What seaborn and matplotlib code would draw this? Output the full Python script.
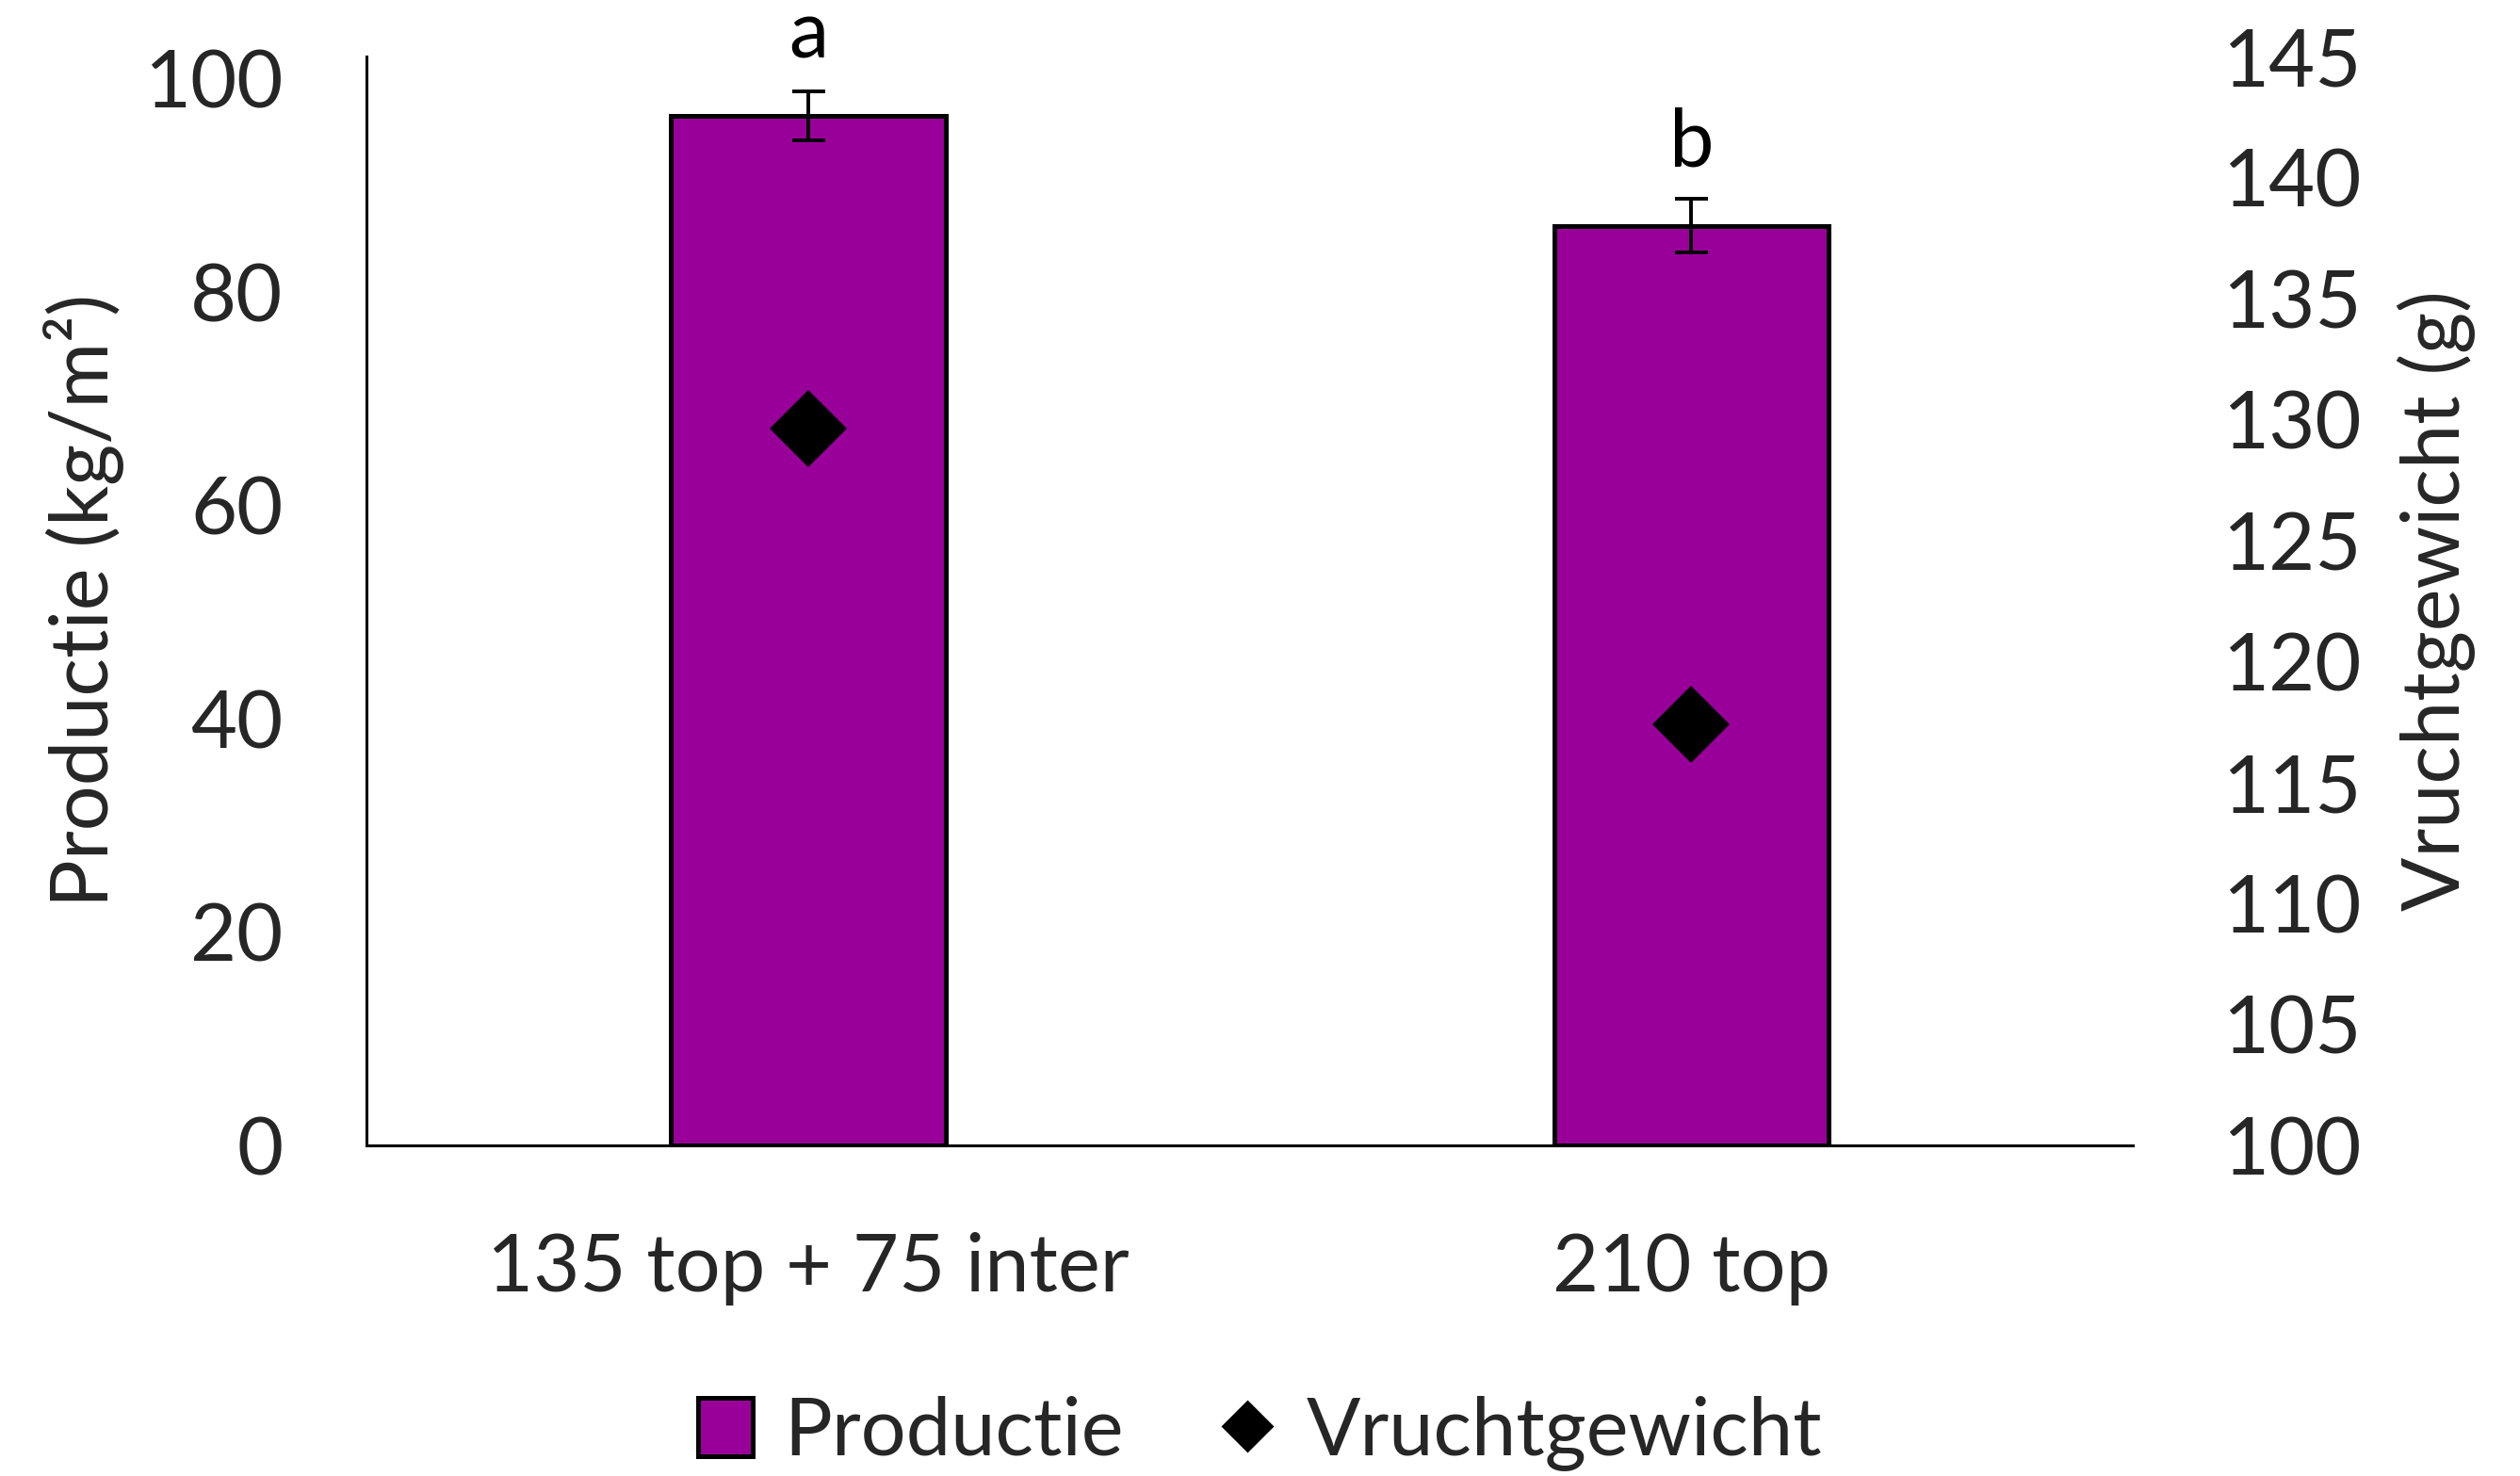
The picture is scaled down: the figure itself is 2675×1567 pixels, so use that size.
import matplotlib
matplotlib.use("Agg")
import matplotlib.pyplot as plt
import seaborn as sns
import pandas as pd
from matplotlib.patches import Patch
from matplotlib.lines import Line2D

categories = ["135 top + 75 inter", "210 top"]
productie = [96.5, 86.2]
productie_err = [2.3, 2.5]
vruchtgewicht = [129.6, 117.4]
letters = ["a", "b"]
left_ticks = [0, 20, 40, 60, 80, 100]
right_ticks = [100, 105, 110, 115, 120, 125, 130, 135, 140, 145]

sns.set_theme(style="white")
plt.rcParams["font.family"] = ["Lato", "DejaVu Sans"]
FS = 30.5
PURPLE = "#990099"

df = pd.DataFrame({"cat": categories, "prod": productie, "vg": vruchtgewicht})

fig = plt.figure(figsize=(2675 / 200, 1567 / 200), dpi=200)
ax = fig.add_axes([0.1455, 0.224, 0.7009, 0.738])

sns.barplot(data=df, x="cat", y="prod", ax=ax, color=PURPLE, width=0.311,
            edgecolor="black", linewidth=1.8, errorbar=None, saturation=1)
ax.errorbar(range(len(categories)), productie, yerr=productie_err, fmt="none",
            ecolor="black", elinewidth=1.4, capsize=6.3, capthick=1.4, zorder=5)
for i, (v, e, t) in enumerate(zip(productie, productie_err, letters)):
    ax.text(i, v + e + 3.1, t, ha="center", va="baseline", fontsize=FS, color="black")

ax.set_xlim(-0.5, 1.5)
ax.set_ylim(0, 102.1)
ax.set_yticks(left_ticks)
ax.set_yticklabels([str(t) for t in left_ticks], fontsize=FS)
ax.set_xlabel("")
ax.set_ylabel("Productie (kg/m²)", fontsize=FS, labelpad=8)
ax.tick_params(axis="both", length=0, labelsize=FS)
ax.tick_params(axis="y", pad=32)
ax.tick_params(axis="x", pad=33)
for s in ["top", "right"]:
    ax.spines[s].set_visible(False)
for s in ["left", "bottom"]:
    ax.spines[s].set_color("black")
    ax.spines[s].set_linewidth(1.1)

ax2 = ax.twinx()
sns.pointplot(data=df, x="cat", y="vg", ax=ax2, color="black", markers="D",
              linestyles="none", markersize=19, errorbar=None)
ax2.set_xlim(-0.5, 1.5)
ax2.set_ylim(100, 145)
ax2.set_yticks(right_ticks)
ax2.set_yticklabels([str(t) for t in right_ticks], fontsize=FS)
ax2.set_ylabel("Vruchtgewicht (g)", fontsize=FS, labelpad=14)
ax2.set_xlabel("")
ax2.tick_params(axis="y", length=0, pad=34, labelsize=FS)
for s in ax2.spines.values():
    s.set_visible(False)

handles = [Patch(facecolor=PURPLE, edgecolor="black", linewidth=1.8),
           Line2D([], [], marker="D", color="black", linestyle="none", markersize=13)]
fig.legend(handles, ["Productie", "Vruchtgewicht"], loc="lower center",
           bbox_to_anchor=(0.5, -0.045), ncol=2, frameon=False, fontsize=FS,
           handlelength=0.68, handleheight=0.75, handletextpad=0.4, columnspacing=1.2)

fig.savefig("out.png", dpi=200)
